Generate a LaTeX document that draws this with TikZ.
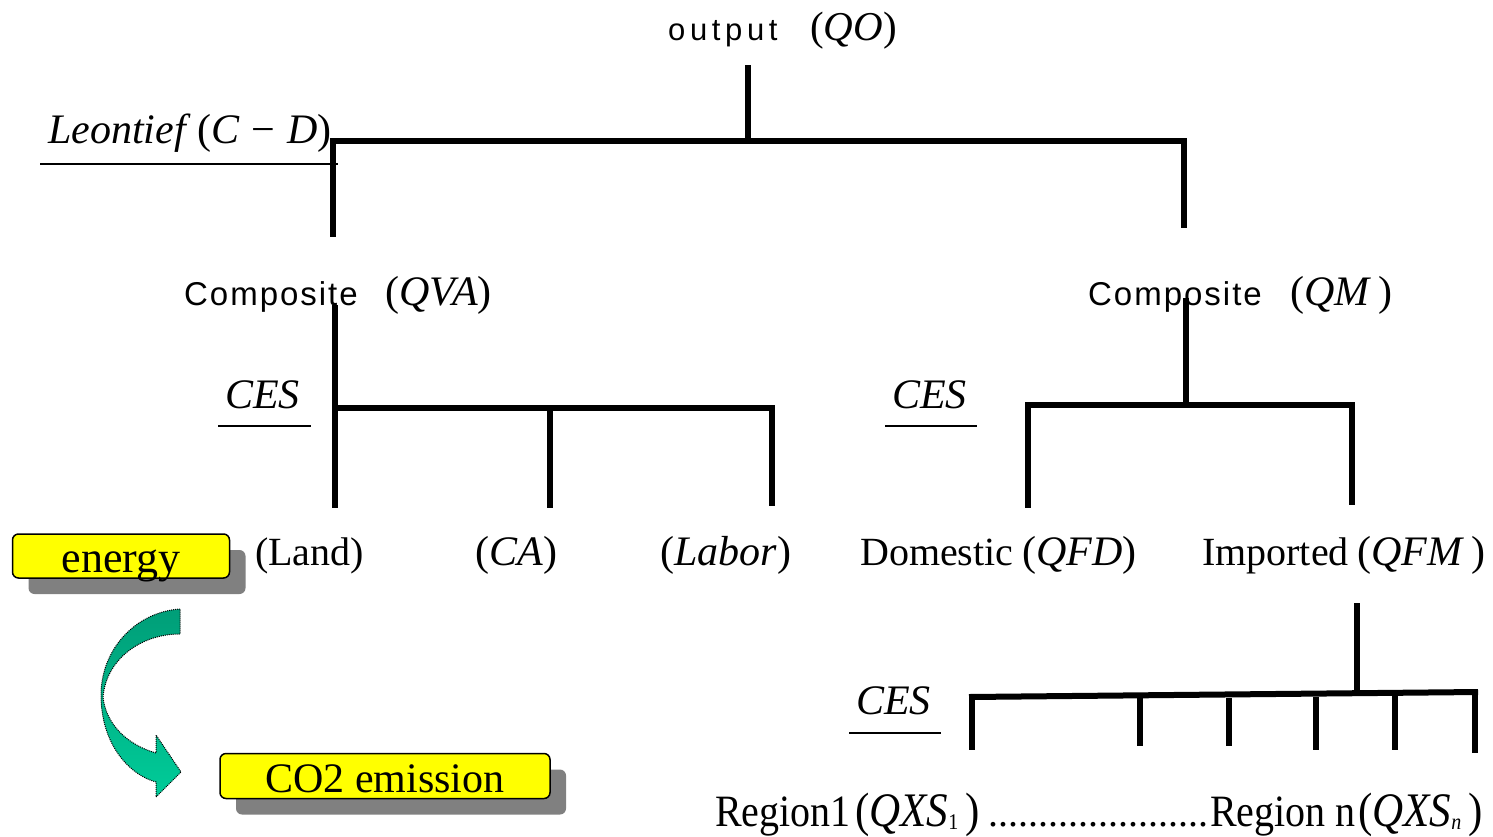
\documentclass[tikz,border=0pt]{standalone}
\usepackage{fontspec}
\setmainfont{Liberation Serif}
\newfontfamily\gsans[LetterSpace=6]{Liberation Sans}
\newfontfamily\osans[LetterSpace=15]{Liberation Sans}
\usetikzlibrary{shadows}
\definecolor{boxyellow}{RGB}{255,255,0}
\definecolor{shadowgray}{RGB}{128,128,128}
\definecolor{arrowdark}{RGB}{0,158,120}
\definecolor{arrowlight}{RGB}{0,204,153}
\newcommand\fs[1]{\fontsize{#1}{#1}\selectfont}
\newcommand\lowsub[1]{\raisebox{-3pt}{\fs{20}#1}}
\newcommand\tall[1]{\scalebox{1}[1.12]{#1}}

\begin{document}
\begin{tikzpicture}[x=1pt,y=-1pt,
  bar/.style={line width=6pt},
  rule/.style={line width=1.5pt},
  lbl/.style={inner sep=0pt, anchor=base west},
  tag/.style={draw=black, line width=1.5pt, fill=boxyellow, rounded corners=6pt,
    inner sep=0pt,
    drop shadow={shadow xshift=16pt, shadow yshift=-16pt, fill=shadowgray, opacity=1}}]
\useasboundingbox (0,0) rectangle (1493,836);

% ---- labels ----
\node[lbl] (out) at (668,40) {\osans\fs{31}output};
\node[lbl] (outq) at (810,40) {\fs{41}(\textit{QO})};
\node[lbl] (leon) at (48,143) {\fs{42}\textit{Leontief}\,(\textit{C}\;−\;\textit{D})};

\node[lbl] (cva) at (184,305) {\gsans\fs{33}Composite};
\node[lbl] (cvaq) at (385,305) {\fs{42}(\textit{QVA})};
\node[lbl] (cm) at (1088,305) {\gsans\fs{33}Composite};
\node[lbl] (cmq) at (1290,305) {\fs{42}(\textit{QM}\,)};

\node[lbl] (ces1) at (225,408) {\fs{42}\textit{CES}};
\node[lbl] (ces2) at (892,408) {\fs{42}\textit{CES}};
\node[lbl] (ces3) at (856,714) {\fs{42}\textit{CES}};

\node[lbl] (land) at (255,565) {\fs{40}(Land)};
\node[lbl] (ca) at (475,565) {\fs{42}(\textit{CA})};
\node[lbl] (labor) at (660,565) {\fs{42}(\textit{Labor})};
\node[lbl] (dom) at (860,565) {\fs{40}Domestic};
\node[lbl] (domq) at (1022,565) {\fs{42}(\textit{QFD})};
\node[lbl] (imp) at (1202,565) {\fs{40}Imported};
\node[lbl] (impq) at (1357,565) {\fs{42}(\textit{QFM}\,)};

\node[lbl] (reg1) at (715,826) {\tall{\fs{40}Region1}};
\node[lbl] (reg1q) at (855,826) {\tall{\fs{43}(\textit{QXS}\lowsub{1}\,)}};
\node[lbl] (dots) at (988,826) {\fs{40}......................};
\node[lbl] (regn) at (1210,826) {\tall{\fs{40}Region n}};
\node[lbl] (regnq) at (1358,826) {\tall{\fs{43}(\textit{QXS}\lowsub{\textit{n}}\,)}};

% ---- underlines of the function labels ----
\draw[rule] (40,164) -- (338,164);
\draw[rule] (218,426) -- (311,426);
\draw[rule] (885,426) -- (977,426);
\draw[rule] (849,733) -- (941,733);

% ---- top nest: Leontief ----
\coordinate (topj) at (748,141);
\draw[bar] (748,65) -- (topj);
\draw[bar] (330,141) -- (1187,141);
\draw[bar] (333,138) -- (333,237);
\draw[bar] (1184,138) -- (1184,228);

% ---- value-added nest ----
\draw[bar] (335,305) -- (335,508);
\draw[bar] (335,408) -- (775,408);
\draw[bar] (550,408) -- (550,508);
\draw[bar] (772,405) -- (772,506);

% ---- Armington nest ----
\draw[bar] (1186,298) -- (1186,405);
\draw[bar] (1025,405) -- (1355,405);
\draw[bar] (1028,402) -- (1028,508);
\draw[bar] (1352,402) -- (1352,505);

% ---- import regions nest ----
\draw[bar] (1357,603) -- (1357,694);
\draw[bar] (969,697) -- (1478,692);
\draw[bar] (972,694) -- (972,750);
\foreach \x/\a/\b in {1140/698/746, 1229/698/746, 1316/697/750, 1395/693/750, 1475/690/753}
  \draw[bar] (\x,\a) -- (\x,\b);

% ---- energy to emission ----
\node[tag, minimum width=217pt, minimum height=44pt] (energy) at (121,556) {};
\node[lbl, anchor=base] (energyt) at (121,572) {\fs{44}energy};
\node[tag, minimum width=330pt, minimum height=45pt] (co2) at (385,776) {};
\node[lbl, anchor=base] (co2t) at (385,792) {\fs{42}CO2 emission};

\path[top color=arrowdark, bottom color=arrowlight, draw=black, densely dotted, line width=1pt]
  (180,609) .. controls (135,612) and (101,650) .. (101,695)
  .. controls (101,745) and (130,775) .. (156,782)
  -- (156,797) -- (181,772) -- (156,735) -- (156,753)
  .. controls (128,745) and (106,725) .. (103,697)
  .. controls (106,660) and (140,634) .. (180,634) -- cycle;
\end{tikzpicture}
\end{document}
